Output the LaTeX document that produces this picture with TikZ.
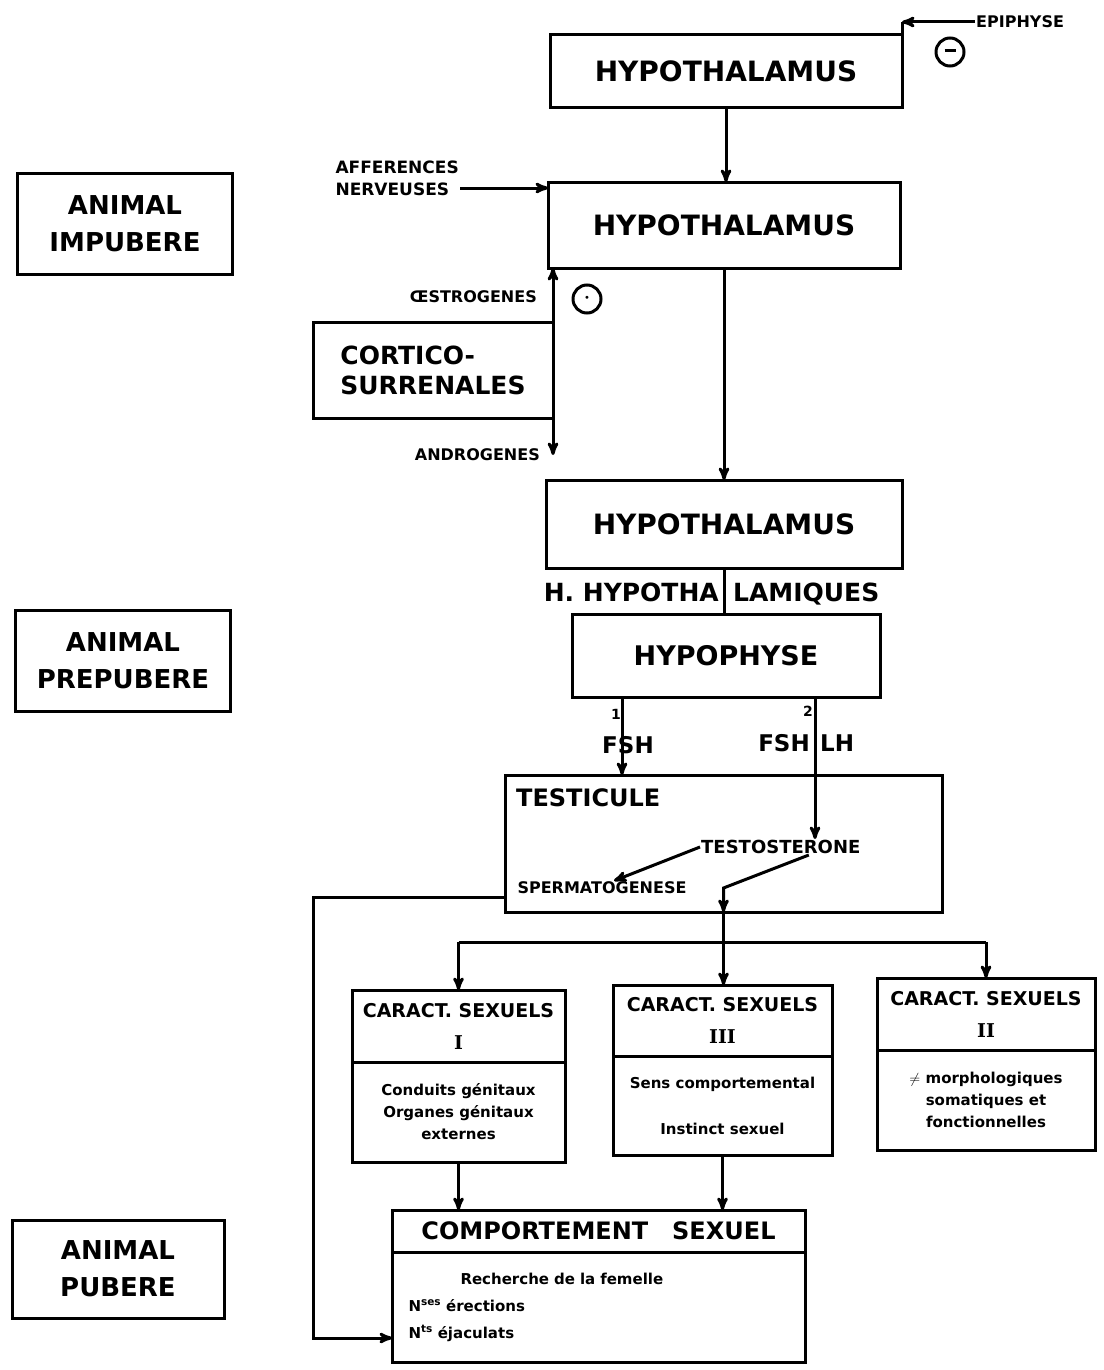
\documentclass[tikz,border=0pt]{standalone}
\usepackage{fontspec}
\setmainfont{DejaVu Sans}
\newfontfamily\romain{DejaVu Serif}
\usepackage{tikz}
\usetikzlibrary{arrows,positioning}
\tikzset{
  organe/.style={draw,line width=3pt,outer sep=0pt,align=center,
    font=\fontsize{28}{32}\selectfont\bfseries},
  stade/.style={draw,line width=3pt,minimum width=215pt,minimum height=101pt,
    align=center,font=\fontsize{26}{37}\selectfont\bfseries},
  titre/.style={organe,font=\fontsize{19}{32}\selectfont\bfseries},
  corps/.style={draw,line width=3pt,outer sep=0pt,align=center,
    font=\fontsize{15}{22}\selectfont\bfseries},
  petit/.style={inner sep=1pt,font=\fontsize{16}{20}\selectfont\bfseries},
  moyen/.style={inner sep=1pt,font=\fontsize{23}{26}\selectfont\bfseries},
  grand/.style={inner sep=1pt,font=\fontsize{25}{28}\selectfont\bfseries},
  chiffre/.style={inner sep=1pt,font=\fontsize{14}{16}\selectfont\bfseries},
  signe/.style={circle,draw,line width=3pt,minimum size=28pt,inner sep=0pt},
  fleche/.style={->,>=stealth',line width=3pt},
  trait/.style={line width=3pt}
}
\begin{document}
\begin{tikzpicture}[x=1pt,y=-1pt]
\useasboundingbox (0,0) rectangle (1103,1370);

% stades
\node[stade] (impubere) at (125,224) {ANIMAL\\IMPUBERE};
\node[stade] (prepubere) at (123,661) {ANIMAL\\PREPUBERE};
\node[stade,minimum width=212pt,minimum height=98pt] (pubere) at (118,1269) {ANIMAL\\PUBERE};

% axe hypothalamo-hypophysaire
\node[organe,minimum width=352pt,minimum height=73pt] (hypo1) at (726,71) {HYPOTHALAMUS};
\node[organe,minimum width=352pt,minimum height=86pt] (hypo2) at (724,225) {HYPOTHALAMUS};
\node[organe,minimum width=356pt,minimum height=88pt] (hypo3) at (724,524) {HYPOTHALAMUS};
\node[organe,minimum width=308pt,minimum height=83pt,font=\fontsize{27}{30}\selectfont\bfseries] (hypophyse) at (726,656) {HYPOPHYSE};
\node[organe,minimum width=437pt,minimum height=137pt] (testicule) at (723.5,843.5) {};

\node[petit,anchor=west] (epiphyse) at (975,22) {EPIPHYSE};
\coordinate (coin) at (hypo1.north east |- epiphyse.west);
\draw[trait] (hypo1.north east) -- (coin);
\draw[fleche] (epiphyse) -- (coin);
\node[signe] (moins) at (950,52) {\rule[3pt]{11pt}{3pt}};

\node[petit,align=left,anchor=south east,font=\fontsize{17}{22}\selectfont\bfseries] (afferences) at (460,197) {AFFERENCES\\NERVEUSES};
\draw[fleche] ([yshift=9pt]afferences.south east) -- ([yshift=9pt]afferences.south east -| hypo2.west);
\draw[fleche] (hypo1) -- (hypo1 |- hypo2.north);

% cortico-surrenales
\node[organe,align=left,minimum width=240pt,minimum height=96pt,font=\fontsize{25}{30}\selectfont\bfseries] (cortico) at (433,370) {CORTICO-\\SURRENALES};
\draw[fleche] (cortico.north east) -- (cortico.north east |- hypo2.south);
\coordinate (andro) at ([yshift=-37pt]cortico.south east);
\draw[fleche] (cortico.south east) -- (andro);
\node[petit,anchor=east] (oestrogenes) at (538,297) {ŒSTROGENES};
\node[petit,anchor=east] (androgenes) at (541,455) {ANDROGENES};
\node[signe] (plus) at (587,299) {\textbullet};

\draw[fleche] (hypo2) -- (hypo3);
\node[grand,anchor=base east] (hh1) at (720,601) {H.\ HYPOTHA};
\node[grand,anchor=base west] (hh2) at (732,601) {LAMIQUES};
\draw[trait] (hypo3) -- (hypo3 |- hypophyse.north);

% gonadotrophines
\coordinate (fsh1) at ([xshift=-104pt]hypophyse.south);
\coordinate (fsh2) at ([xshift=89pt]hypophyse.south);
\node[petit,anchor=west,font=\fontsize{18}{20}\selectfont\bfseries] (testosterone) at (700,847) {TESTOSTERONE};
\draw[fleche] (fsh1) -- (fsh1 |- testicule.north);
\draw[fleche] (fsh2) -- (fsh2 |- testosterone.north);
\node[chiffre] (un) at (616,714) {1};
\node[chiffre] (deux) at (808,711) {2};
\node[moyen] (fsh) at (628,745) {FSH};
\node[moyen,anchor=east] (fshb) at (811,743) {FSH};
\node[moyen,anchor=west] (lh) at (819,743) {LH};

% testicule
\node[moyen,anchor=north west,font=\fontsize{24}{26}\selectfont\bfseries] (titretesticule) at ([shift={(10pt,-12pt)}]testicule.north west) {TESTICULE};
\node[petit] (spermato) at (602,888) {SPERMATOGENESE};
\draw[fleche] (testosterone.west) -- ([xshift=12pt]spermato.north);
\draw[fleche] ([xshift=28pt]testosterone.south) -- (testicule.south |- spermato.east) -- (testicule.south);

% caracteres sexuels
\node[titre,minimum width=213pt,minimum height=72pt] (car1) at (458.5,1026) {CARACT. SEXUELS\\{\romain I}};
\node[corps,minimum width=213pt,minimum height=100pt,below=0pt of car1] (car1b) {Conduits génitaux\\Organes génitaux\\externes};
\node[titre,minimum width=219pt,minimum height=71pt] (car3) at (722.5,1020.5) {CARACT. SEXUELS\\{\romain III}};
\node[corps,minimum width=219pt,minimum height=99pt,below=0pt of car3] (car3b) {Sens comportemental\\[24pt]Instinct sexuel};
\node[titre,minimum width=218pt,minimum height=72pt] (car2) at (986,1014) {CARACT. SEXUELS\\{\romain II}};
\node[corps,minimum width=218pt,minimum height=100pt,below=0pt of car2] (car2b) {$\neq$ morphologiques\\somatiques et\\fonctionnelles};

\coordinate (bus) at ([yshift=-30pt]testicule.south);
\draw[trait] (testicule.south) -- (bus);
\draw[trait] (car1 |- bus) -- (car2 |- bus);
\draw[fleche] (car1 |- bus) -- (car1.north);
\draw[fleche] (bus) -- (bus |- car3.north);
\draw[fleche] (car2 |- bus) -- (car2.north);

% comportement
\node[titre,minimum width=413pt,minimum height=42pt,font=\fontsize{24}{26}\selectfont\bfseries] (comp) at (598.5,1231) {COMPORTEMENT\quad SEXUEL};
\node[corps,text width=380pt,align=left,minimum width=413pt,minimum height=110pt,below=0pt of comp,font=\fontsize{15}{27}\selectfont\bfseries] (compb) {\hspace*{52pt}Recherche de la femelle\\N\textsuperscript{ses} érections\\N\textsuperscript{ts} éjaculats};
\draw[fleche] (car1b) -- (car1b |- comp.north);
\draw[fleche] (car3b) -- (car3b |- comp.north);
\draw[fleche] ([yshift=15pt]testicule.south west) -- ++(-192,0) |- ([yshift=-31pt]compb.west);
\end{tikzpicture}
\end{document}
